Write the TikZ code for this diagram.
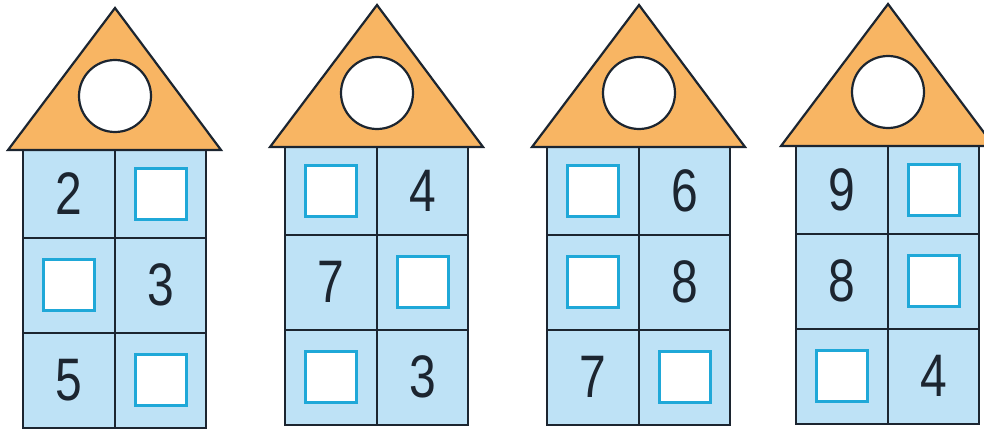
\documentclass[tikz,border=0pt]{standalone}
\usepackage{fontspec}
\setmainfont{Liberation Sans}
\definecolor{roof}{HTML}{F8B563}
\definecolor{wall}{HTML}{BEE2F6}
\definecolor{boxc}{HTML}{1FA8D8}
\definecolor{ink}{HTML}{1C2530}
\tikzset{
  roofsty/.style={fill=roof,draw=ink,line width=2.2pt,line join=miter},
  windowsty/.style={fill=white,draw=ink,line width=2.2pt},
  wallsty/.style={fill=wall,draw=ink,line width=2.2pt},
  gridsty/.style={draw=ink,line width=2.2pt},
  digit/.style={inner sep=0pt,text=ink,font=\fontsize{60}{60}\selectfont},
  blankbox/.style={draw=boxc,fill=white,line width=3pt,minimum width=51pt,minimum height=51pt,inner sep=0pt},
}
\newcommand\hcell[4]{\if b#4\node[blankbox] (#1) at (#2,#3) {};\else\node[digit] (#1) at (#2,#3) {\scalebox{0.8}[1]{#4}};\fi}
% #1 name, #2 mid x, #3 top y, #4-#9 cells
\newcommand\house[9]{%
  \begin{scope}[shift={(#2,#3)}]
    \fill[wall] (-92,0) rectangle (91,278);
    \draw[gridsty] (-92,0) rectangle (91,278);
    \draw[gridsty] (0,0) -- (0,278);
    \draw[gridsty] (-92,88) -- (91,88);
    \draw[gridsty] (-92,183) -- (91,183);
    \draw[roofsty] (-107,0) -- (0,-142) -- (106,0) -- cycle;
    \draw[windowsty] (0,-54) circle (36pt);
    \hcell{#1a}{-46}{44}{#4}
    \hcell{#1b}{46}{44}{#5}
    \hcell{#1c}{-46}{135}{#6}
    \hcell{#1d}{46}{135}{#7}
    \hcell{#1e}{-46}{230}{#8}
    \hcell{#1f}{46}{230}{#9}
  \end{scope}}
\begin{document}
\begin{tikzpicture}[x=1pt,y=-1pt]
\useasboundingbox[fill=white] (0,0) rectangle (984,428);
\begin{scope}
\clip (0,0) rectangle (984,428);
\house{h1}{115}{150}{2}{b}{b}{3}{5}{b}
\house{h2}{377}{147}{b}{4}{7}{b}{b}{3}
\house{h3}{639}{147}{b}{6}{b}{8}{7}{b}
\house{h4}{888}{146}{9}{b}{8}{b}{b}{4}
\end{scope}
\end{tikzpicture}
\end{document}
